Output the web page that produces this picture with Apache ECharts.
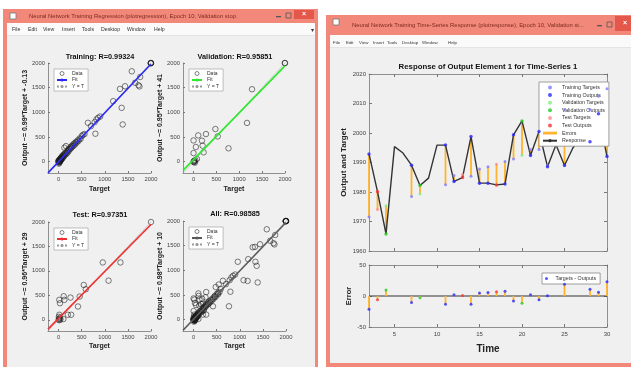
<!DOCTYPE html>
<html>
<head>
<meta charset="utf-8">
<title>plotregression / plotresponse</title>
<script src="https://cdn.jsdelivr.net/npm/echarts@6/dist/echarts.min.js"></script>
<style>
html, body { margin: 0; padding: 0; background: #fff; }
#chart { width: 631px; height: 367px; }
</style>
</head>
<body>
<div id="chart"></div>
<script>
// regression plots: [target, output]
var trainPoints = [
    [0, 0], [4, 18], [8, -12], [12, 30], [16, 8], [20, 42], [24, -6], [28, 22], [32, 58], [36, 14],
    [40, 34], [45, 66], [50, 26], [55, 80], [60, 48], [66, 95], [72, 58], [78, 110], [85, 72], [92, 125],
    [5, -40], [15, -25], [-10, 10], [100, 95], [108, 142], [118, 110], [128, 160], [124, 283], [138, 140],
    [150, 178], [160, 316], [168, 155], [178, 205], [190, 180], [202, 236], [215, 210], [228, 262],
    [240, 245], [255, 290], [268, 270], [282, 318], [296, 300], [310, 345], [325, 322], [340, 372],
    [356, 350], [372, 398], [390, 385], [410, 430], [430, 418], [452, 470], [475, 460], [500, 520],
    [530, 545], [560, 560], [635, 788], [700, 720], [780, 800], [796, 566], [818, 855], [854, 889],
    [900, 915], [1182, 1226], [1365, 1091], [1387, 754], [1328, 1475], [1438, 1529], [1584, 1832],
    [1657, 1600], [1730, 1550], [1750, 1525], [1766, 1717], [1992, 1996], [2000, 1994], [1996, 2000], [2000, 2000]
];
var valPoints = [
    [1279, 1468], [1169, 785], [478, 662], [529, 512], [272, 560], [103, 532], [0, 430], [184, 425],
    [199, 324], [51, 297], [221, 189], [765, 271], [0, 174], [0, 0], [20, 10], [30, -20], [40, 30],
    [10, -10], [74, 55], [15, 20], [1996, 1998], [2000, 2000]
];
var testPoints = [
    [956, 1173], [1338, 1173], [1081, 800], [544, 712], [588, 624], [456, 475], [419, 271], [257, 454],
    [110, 481], [125, 407], [15, 407], [29, 339], [272, 102], [199, 102], [103, 14], [15, 102], [0, 0],
    [10, 20], [20, -10], [30, 40], [5, 60], [40, 10], [2000, 2000]
];
var regTitles = ['Training: R=0.99324', 'Validation: R=0.95851', 'Test: R=0.97351', 'All: R=0.98585'];
var fitNames = ['Output ~= 0.99*Target + -0.13', 'Output ~= 0.95*Target + 41',
    'Output ~= 0.96*Target + 29', 'Output ~= 0.98*Target + 10'];
var fitSlope = [0.99, 0.95, 0.96, 0.98];
var fitOffset = [-0.13, 41, 29, 10];
var fitColors = ['#2a2af5', '#2ee82e', '#ee3030', '#5a5a5a'];
var regTicks = [0, 500, 1000, 1500, 2000];
var regMin = -230, regMax = 2000;

// time-series response, t = 2..30
var steps = [2, 3, 4, 5, 6, 7, 8, 9, 10, 11, 12, 13, 14, 15, 16, 17, 18, 19, 20, 21, 22, 23, 24, 25, 26, 27, 28, 29, 30];
var response = [1992.9, 1980.1, 1965.8, 1995.4, 1993.2, 1989.1, 1982.2, 1984.7, 1995.9, 1995.9,
    1983.6, 1984.9, 1998.8, 1983.0, 1983.0, 1982.4, 1982.7, 1999.4, 2004.1, 1992.4,
    2000.5, 1988.6, 1996.0, 1989.0, 1995.0, 1999.0, 1997.0, 2006.5, 1992.0];
var targets = [1971.5, 1974.1, 1975.3, null, null, 1978.5, 1979.3, null, null, 1982.5,
    1985.6, 1985.9, 1985.3, 1987.8, 1988.6, 1989.4, 1990.3, 1991.2, 1992.5, 1994.4,
    1994.4, 1989.0, null, 2008.0, null, null, 2008.0, 2012.5, 2015.0];
var sets = ['train', 'test', 'val', null, null, 'train', 'val', null, null, 'train',
    'train', 'test', 'train', 'train', 'train', 'test', 'train', 'train', 'val', 'train',
    'train', 'train', null, 'train', null, null, 'train', 'train', 'train'];
var timeTicks = [5, 10, 15, 20, 25, 30];

var font = '"Liberation Sans", Arial, sans-serif';
var setInfo = {
    train : {label : 'Training', target : '#7d7dff', output : '#2b2bff'},
    val : {label : 'Validation', target : '#80ee80', output : '#22cc22'},
    test : {label : 'Test', target : '#ff8a8a', output : '#ff3030'}
};
var errColor = '#ffb32e';
var plain = function(v) { return '' + v; };

var chart = echarts.init(document.getElementById('chart'));

// ---------- window chrome ----------
var chrome = [];
function box(x, y, w, h, fill, stroke) {
    chrome.push({type : 'rect', silent : true, shape : {x : x, y : y, width : w, height : h},
        style : {fill : fill, stroke : stroke || null, lineWidth : 0.8}});
}
function txt(text, x, y, size, color, weight, align) {
    chrome.push({type : 'text', silent : true, style : {text : text, x : x, y : y,
        fill : color, fontSize : size, fontWeight : weight || 'normal', fontFamily : font,
        textAlign : align || 'left', textVerticalAlign : 'middle'}});
}
function windowFrame(x, y, w, h, barH, title, menuX, menuY, menuSize, btnX) {
    box(x, y, w, h, '#f2887a');
    box(x + 4, y + barH, w - 7, h - barH - 4, '#f0f0f0');
    box(x + 4, y + barH, w - 7, 12, '#fafafa');
    box(x + 4, y + barH + 12, w - 7, 0.6, '#d8d8d8');
    box(x + 7, y + 4, 6, 6, '#ffffff', '#777');
    txt(title, x + 26, y + barH / 2, 5.9, '#7d2c20');
    box(btnX, y + barH / 2, 5, 1.3, '#555');
    box(btnX + 10, y + barH / 2 - 3, 5, 5, null, '#555');
    box(btnX + 18, y + 1, 20, barH - 5, '#e4584c');
    txt('\u00d7', btnX + 28, y + barH / 2 - 1.5, 7, '#fff', 'bold', 'center');
    var menus = ['File', 'Edit', 'View', 'Insert', 'Tools', 'Desktop', 'Window', 'Help'];
    for (var i = 0; i < menus.length; i++) {
        txt(menus[i], menuX[i], menuY, menuSize, '#333');
    }
}
windowFrame(3, 9, 315, 370, 14, 'Neural Network Training Regression (plotregression), Epoch 10, Validation stop.',
    [12, 28, 43, 62, 82, 101, 127, 154], 30, 5.2, 276);
txt('\u25be', 312, 30, 6, '#333', 'normal', 'center');
windowFrame(326, 15, 320, 352, 20, 'Neural Network Training Time-Series Response (plotresponse), Epoch 10, Validation st...',
    [333, 346, 359, 373, 387, 402, 422, 448], 43, 4.4, 597);

// plot titles
var regCenters = [[100, 57], [235, 57], [100, 215], [235, 214]];
for (var k = 0; k < 4; k++) {
    txt(regTitles[k], regCenters[k][0], regCenters[k][1], 7.3, '#111', 'bold', 'center');
}
txt('Response of Output Element 1 for Time-Series 1', 488, 67, 7.8, '#111', 'bold', 'center');

// ---------- regression grids ----------
var regGrids = [
    {left : 48, top : 63, width : 103, height : 110},
    {left : 183, top : 63, width : 102, height : 110},
    {left : 48, top : 222, width : 103, height : 109},
    {left : 183, top : 221, width : 103, height : 110}
];
var allPoints = trainPoints.concat(valPoints, testPoints);
var regData = [trainPoints, valPoints, testPoints, allPoints];

var grids = [], xAxes = [], yAxes = [], series = [], legends = [];

function regAxis(i, name, gap) {
    return {
        type : 'value', gridIndex : i, min : regMin, max : regMax,
        name : name, nameLocation : 'middle', nameGap : gap,
        nameTextStyle : {fontSize : 7, fontWeight : 'bold', color : '#222', fontFamily : font},
        axisLine : {onZero : false, lineStyle : {color : '#777', width : 0.8}},
        axisTick : {inside : true, length : 2, customValues : regTicks, lineStyle : {color : '#777'}},
        axisLabel : {customValues : regTicks, formatter : plain, fontSize : 5.8, color : '#444', margin : 3, fontFamily : font},
        splitLine : {show : false}
    };
}

for (var k = 0; k < 4; k++) {
    grids.push({left : regGrids[k].left, top : regGrids[k].top, width : regGrids[k].width,
        height : regGrids[k].height, show : true, backgroundColor : '#fff', borderColor : '#777', borderWidth : 0.8});
    xAxes.push(regAxis(k, 'Target', k < 2 ? 13 : 12));
    yAxes.push(regAxis(k, fitNames[k], 19));

    series.push({
        name : 'Data ' + k, type : 'scatter', xAxisIndex : k, yAxisIndex : k,
        symbol : 'circle', symbolSize : 5.5, z : 2,
        itemStyle : {color : 'rgba(0,0,0,0)', borderColor : '#1a1a1a', borderWidth : 0.7},
        data : regData[k]
    });
    series.push({
        name : 'Y = T ' + k, type : 'line', xAxisIndex : k, yAxisIndex : k, symbol : 'none', z : 3,
        lineStyle : {color : '#999', width : 0.8, type : 'dotted'}, itemStyle : {color : '#999'},
        data : [[regMin, regMin], [regMax, regMax]]
    });
    series.push({
        name : 'Fit ' + k, type : 'line', xAxisIndex : k, yAxisIndex : k, symbol : 'none', z : 4,
        lineStyle : {color : fitColors[k], width : 1.6}, itemStyle : {color : fitColors[k]},
        data : [[regMin, fitSlope[k] * regMin + fitOffset[k]], [regMax, fitSlope[k] * regMax + fitOffset[k]]]
    });
    legends.push({
        left : regGrids[k].left + 6, top : regGrids[k].top + 6, orient : 'vertical',
        itemWidth : 10, itemHeight : 4, itemGap : 1.5, padding : [2, 4, 2, 2],
        backgroundColor : '#fff', borderColor : '#999', borderWidth : 0.6, selectedMode : false,
        textStyle : {fontSize : 5, color : '#333', fontFamily : font},
        formatter : function(name) { return name.replace(/ \d$/, ''); },
        data : [{name : 'Data ' + k, icon : 'circle',
                 itemStyle : {color : 'rgba(0,0,0,0)', borderColor : '#222', borderWidth : 0.7}},
                'Fit ' + k, 'Y = T ' + k]
    });
}

// ---------- time-series grids ----------
grids.push({left : 369, top : 74, width : 238, height : 177, show : true,
    backgroundColor : '#fff', borderColor : '#777', borderWidth : 0.8});
grids.push({left : 369, top : 265, width : 238, height : 62, show : true,
    backgroundColor : '#fff', borderColor : '#777', borderWidth : 0.8});

function timeAxis(grid, pos, labels, name) {
    return {
        type : 'value', gridIndex : grid, min : 2, max : 30, position : pos,
        name : name || '', nameLocation : 'middle', nameGap : 17,
        nameTextStyle : {fontSize : 10, fontWeight : 'bold', color : '#222', fontFamily : font},
        axisLine : {onZero : false, lineStyle : {color : '#777', width : 0.8}},
        axisTick : {inside : true, length : 3, customValues : timeTicks, lineStyle : {color : '#777'}},
        axisLabel : {show : labels, customValues : timeTicks, formatter : plain, fontSize : 6, color : '#444', margin : 4, fontFamily : font},
        splitLine : {show : false}
    };
}
function valAxis(grid, pos, min, max, step, labels, name, gap, size) {
    return {
        type : 'value', gridIndex : grid, min : min, max : max, interval : step, position : pos,
        name : name || '', nameLocation : 'middle', nameGap : gap || 0,
        nameTextStyle : {fontSize : size || 8, fontWeight : 'bold', color : '#222', fontFamily : font},
        axisLine : {onZero : false, lineStyle : {color : '#777', width : 0.8}},
        axisTick : {inside : true, length : 3, lineStyle : {color : '#777'}},
        axisLabel : {show : labels, formatter : plain, fontSize : 6, color : '#444', margin : 3, fontFamily : font},
        splitLine : {show : false}
    };
}
xAxes.push(timeAxis(4, 'bottom', false));
yAxes.push(valAxis(4, 'left', 1960, 2020, 10, true, 'Output and Target', 21, 8));
xAxes.push(timeAxis(5, 'bottom', true, 'Time'));
yAxes.push(valAxis(5, 'left', -50, 50, 50, true, 'Error', 15, 7.5));
xAxes.push(timeAxis(4, 'top', false));
yAxes.push(valAxis(4, 'right', 1960, 2020, 10, false));
xAxes.push(timeAxis(5, 'top', false));
yAxes.push(valAxis(5, 'right', -50, 50, 50, false));

// build the response-plot data from the arrays
var lineData = [], barData = [], errBars = [], errDots = [];
var setTargets = {train : [], val : [], test : []};
var setOutputs = {train : [], val : [], test : []};
for (var i = 0; i < steps.length; i++) {
    lineData.push([steps[i], response[i]]);
    if (targets[i] == null) continue;
    var s = sets[i];
    var err = targets[i] - response[i];
    setTargets[s].push([steps[i], targets[i]]);
    setOutputs[s].push([steps[i], response[i]]);
    barData.push([steps[i], response[i], targets[i]]);
    errBars.push([steps[i], 0, err]);
    errDots.push({value : [steps[i], err], itemStyle : {color : setInfo[s].output}});
}

function renderBar(params, api) {
    var p0 = api.coord([api.value(0), api.value(1)]);
    var p1 = api.coord([api.value(0), api.value(2)]);
    return {type : 'line', shape : {x1 : p0[0], y1 : p0[1], x2 : p1[0], y2 : p1[1]},
        style : {stroke : errColor, lineWidth : 1.8}};
}

series.push({
    name : 'Errors', type : 'custom', xAxisIndex : 4, yAxisIndex : 4, z : 2,
    itemStyle : {color : errColor}, renderItem : renderBar, encode : {x : 0, y : [1, 2]}, data : barData
});
series.push({
    name : 'Response', type : 'line', xAxisIndex : 4, yAxisIndex : 4, symbol : 'none', z : 3,
    lineStyle : {color : '#333', width : 1.4}, itemStyle : {color : '#333'}, data : lineData
});
var mainLegend = [];
['train', 'val', 'test'].forEach(function(s) {
    var info = setInfo[s];
    series.push({
        name : info.label + ' Targets', type : 'scatter', xAxisIndex : 4, yAxisIndex : 4, z : 4,
        symbolSize : 3, itemStyle : {color : info.target}, data : setTargets[s]
    });
    series.push({
        name : info.label + ' Outputs', type : 'scatter', xAxisIndex : 4, yAxisIndex : 4, z : 5,
        symbolSize : 3.5, itemStyle : {color : info.output}, data : setOutputs[s]
    });
    mainLegend.push(info.label + ' Targets', info.label + ' Outputs');
});
mainLegend.push({name : 'Errors', icon : 'path://M0,0H20V4H0Z'}, 'Response');

series.push({
    name : 'zero', type : 'line', xAxisIndex : 5, yAxisIndex : 5, symbol : 'none', silent : true, z : 2,
    lineStyle : {color : '#333', width : 1}, data : [[2, 0], [30, 0]]
});
series.push({
    name : 'errbars', type : 'custom', xAxisIndex : 5, yAxisIndex : 5, z : 3,
    itemStyle : {color : errColor}, renderItem : renderBar, encode : {x : 0, y : [1, 2]}, data : errBars
});
series.push({
    name : 'Targets - Outputs', type : 'scatter', xAxisIndex : 5, yAxisIndex : 5, z : 4,
    symbolSize : 3, itemStyle : {color : '#2b2bff'}, data : errDots
});

legends.push({
    left : 539, top : 82, orient : 'vertical', itemWidth : 14, itemHeight : 4, itemGap : 2.6,
    padding : [3, 4, 3, 3], backgroundColor : '#fff', borderColor : '#888', borderWidth : 0.8,
    selectedMode : false, textStyle : {fontSize : 5.3, color : '#333', fontFamily : font},
    data : mainLegend
});
legends.push({
    left : 542, top : 273, orient : 'vertical', itemWidth : 8, itemHeight : 3,
    padding : [3, 4, 3, 3], backgroundColor : '#fff', borderColor : '#888', borderWidth : 0.8,
    selectedMode : false, textStyle : {fontSize : 5.3, color : '#333', fontFamily : font},
    data : ['Targets - Outputs']
});

var option = {
    backgroundColor : '#ffffff',
    animation : false,
    textStyle : {fontFamily : font},
    graphic : {elements : chrome},
    grid : grids,
    xAxis : xAxes,
    yAxis : yAxes,
    legend : legends,
    series : series
};
chart.setOption(option);

window.addEventListener('resize', function() {
    chart.resize();
});
</script>
</body>
</html>
